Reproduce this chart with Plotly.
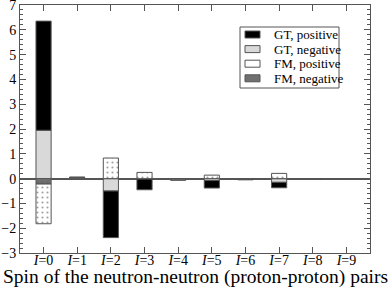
import plotly.graph_objects as go

spins = [0, 1, 2, 3, 4, 5, 6, 7, 8, 9]
tick_labels = ["<i>I</i>=%d" % s for s in spins]

gt_positive = [4.40, 0.0, -1.88, -0.43, 0.0, -0.30, -0.02, -0.22, 0.0, 0.0]
gt_negative = [1.95, 0.0, -0.50, -0.02, 0.0, -0.08, 0.0, -0.15, 0.0, 0.0]
fm_positive = [-1.60, 0.0, 0.83, 0.25, 0.0, 0.14, 0.0, 0.21, 0.0, 0.0]
fm_negative = [-0.22, 0.05, 0.0, 0.0, -0.07, 0.0, -0.03, 0.0, 0.0, -0.03]

legend_names = ["GT, positive", "GT, negative", "FM, positive", "FM, negative"]
legend_fills = ["black", "#d9d9d9", "white", "#707070"]

serif = "Liberation Serif"
axcol = "#555555"
line = dict(color=axcol, width=1)
W = 0.45

fig = go.Figure()
# stacking order (closest to zero first)
fig.add_trace(go.Bar(x=spins, y=gt_negative, name="GT, negative", width=W,
                     marker=dict(color="#d9d9d9", line=line)))
fig.add_trace(go.Bar(x=spins, y=fm_negative, name="FM, negative", width=W,
                     marker=dict(color="#707070", line=line,
                                 pattern=dict(shape=".", fgcolor="#555555", bgcolor="#707070",
                                              size=5, solidity=0.15))))
fig.add_trace(go.Bar(x=spins, y=gt_positive, name="GT, positive", width=W,
                     marker=dict(color="black", line=line)))
fig.add_trace(go.Bar(x=spins, y=fm_positive, name="FM, positive", width=W,
                     marker=dict(color="white", line=line,
                                 pattern=dict(shape=".", fgcolor="#444444", bgcolor="white",
                                              size=5, solidity=0.15))))

# hand-drawn legend (compact, like the reference)
L, R, T, B = 20, 20, 5, 36
PW, PH = 390 - L - R, 289 - T - B
def px(x):
    return (x - L) / PW
def py(y):
    return (289 - B - y) / PH

shapes = [dict(type="rect", xref="paper", yref="paper", x0=px(240), x1=px(339),
               y0=py(88), y1=py(27), fillcolor="white", line=dict(color=axcol, width=1),
               layer="above")]
annotations = []
for i, (nm, fc) in enumerate(zip(legend_names, legend_fills)):
    yc = 34.5 + i * 14.6
    shapes.append(dict(type="rect", xref="paper", yref="paper", x0=px(245), x1=px(260),
                       y0=py(yc + 3.5), y1=py(yc - 3.5), fillcolor=fc,
                       line=dict(color=axcol, width=1), layer="above"))
    annotations.append(dict(xref="paper", yref="paper", x=px(272), y=py(yc), text=nm,
                            showarrow=False, xanchor="left", yanchor="middle",
                            font=dict(family=serif, size=13, color="black")))
annotations.append(dict(xref="paper", yref="paper", x=px(195), y=py(277),
                        text="Spin of the neutron-neutron (proton-proton) pairs",
                        showarrow=False, xanchor="center", yanchor="middle",
                        font=dict(family=serif, size=19.5, color="black")))

fig.update_layout(
    width=390, height=289,
    margin=dict(l=L, r=R, t=T, b=B),
    barmode="relative",
    plot_bgcolor="white", paper_bgcolor="white",
    font=dict(family=serif, size=13, color="black"),
    showlegend=False,
    shapes=shapes, annotations=annotations,
    xaxis=dict(range=[-0.7, 9.7], tickmode="array", tickvals=spins, ticktext=tick_labels,
               ticks="inside", ticklen=6, tickcolor=axcol, showline=True,
               linecolor=axcol, linewidth=1, mirror="ticks", showgrid=False,
               zeroline=False, tickfont=dict(family=serif, size=14), automargin=False,
               ticklabelstandoff=-6, ticklabeloverflow="allow"),
    yaxis=dict(range=[-3, 7], dtick=1, ticks="inside", ticklen=6, tickcolor=axcol,
               showline=True, linecolor=axcol, linewidth=1, mirror="ticks",
               showgrid=False, zeroline=True, zerolinecolor=axcol, zerolinewidth=1.5,
               tickfont=dict(family=serif, size=14), automargin=False,
               ticklabeloverflow="allow",
               minor=dict(dtick=0.2, ticks="inside", ticklen=3, tickcolor=axcol)),
)

fig.write_html("out.html", config={"displayModeBar": False},
               post_script="document.body.style.margin='0';document.body.style.overflow='hidden';")
